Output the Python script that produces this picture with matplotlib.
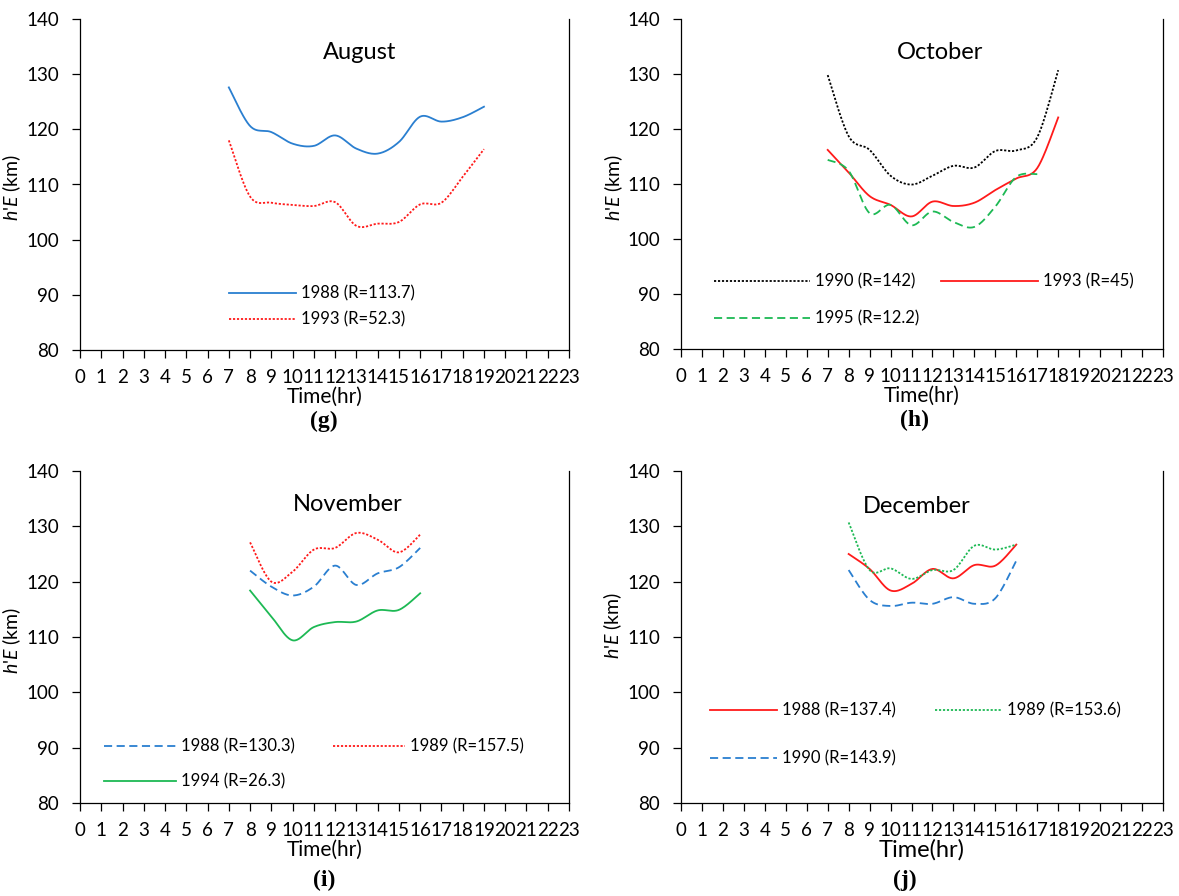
import numpy as np
import matplotlib
matplotlib.use("Agg")
import matplotlib.pyplot as plt

plt.rcParams['font.family'] = ['Lato', 'DejaVu Sans']
plt.rcParams['mathtext.fontset'] = 'custom'
plt.rcParams['mathtext.it'] = 'Lato:italic'
plt.rcParams['mathtext.rm'] = 'Lato'

# Données (h'E en km, heure locale)
hours_aug = list(range(7, 20))
aug_1988 = [127.6, 120.6, 119.5, 117.4, 117.0, 118.9, 116.5, 115.6, 117.7, 122.3, 121.4, 122.2, 124.1]
aug_1993 = [118.0, 107.8, 106.7, 106.3, 106.1, 106.8, 102.5, 102.9, 103.2, 106.4, 106.7, 111.4, 116.4]

hours_oct = list(range(7, 19))
hours_oct95 = list(range(7, 18))
oct_1990 = [129.8, 118.7, 116.2, 111.5, 109.9, 111.5, 113.3, 113.0, 116.0, 116.1, 118.5, 130.7]
oct_1993 = [116.2, 112.1, 107.8, 106.2, 104.1, 106.8, 106.0, 106.6, 108.9, 111.0, 112.9, 122.1]
oct_1995 = [114.4, 112.4, 104.7, 106.2, 102.5, 105.0, 103.1, 102.2, 105.9, 111.3, 111.8]

hours_nov = list(range(8, 17))
nov_1988 = [122.0, 119.1, 117.5, 119.1, 122.9, 119.4, 121.5, 122.6, 126.1]
nov_1989 = [127.1, 120.0, 121.8, 125.8, 126.1, 128.8, 127.6, 125.3, 128.5]
nov_1994 = [118.4, 113.7, 109.4, 111.8, 112.7, 112.8, 114.8, 114.9, 117.9]

hours_dec = list(range(8, 17))
dec_1988 = [125.0, 122.3, 118.4, 119.6, 122.3, 120.6, 123.0, 122.9, 126.7]
dec_1989 = [130.7, 122.1, 122.4, 120.5, 122.1, 122.1, 126.5, 125.8, 126.7]
dec_1990 = [122.1, 116.7, 115.6, 116.2, 116.0, 117.2, 116.0, 117.0, 123.8]

BLUE = '#2a7fd0'
RED = '#ff1a1a'
GREEN = '#1db954'
DOT = (0, (1.2, 1.0))
DASH = (0, (4.5, 2.5))


# courbe lissée façon Excel (Catmull-Rom)
def lisse(x, y, n=24):
    x = np.asarray(x, float)
    y = np.asarray(y, float)
    px = np.concatenate([[x[0]], x, [x[-1]]])
    py = np.concatenate([[y[0]], y, [y[-1]]])
    t = np.linspace(0, 1, n, endpoint=False)
    xs, ys = [], []
    for i in range(1, len(px) - 2):
        for p, out in ((px, xs), (py, ys)):
            p0, p1, p2, p3 = p[i - 1:i + 3]
            out.extend(0.5 * (2 * p1 + (-p0 + p2) * t
                              + (2 * p0 - 5 * p1 + 4 * p2 - p3) * t ** 2
                              + (-p0 + 3 * p1 - 3 * p2 + p3) * t ** 3))
    xs.append(x[-1])
    ys.append(y[-1])
    return xs, ys


def trace(ax, x, y, label, color, ls):
    xs, ys = lisse(x, y)
    return ax.plot(xs, ys, color=color, ls=ls, lw=1.3, label=label)[0]


def cadre(ax, titre, tx, ty, lettre, lx, ly, ylx, yly, xlsize=15):
    ax.set_xlim(0, 23)
    ax.set_ylim(80, 140)
    ax.set_xticks(range(24))
    ax.set_yticks(range(80, 141, 10))
    ax.tick_params(direction='out', length=6, width=0.9, labelsize=13.5, pad=9, colors='black')
    ax.tick_params(axis='x', pad=8)
    ax.spines['top'].set_visible(False)
    for s in ('left', 'bottom', 'right'):
        ax.spines[s].set_linewidth(0.9)
        ax.spines[s].set_color('black')
    ax.set_xlabel('Time(hr)', fontsize=xlsize, labelpad=0)
    ax.set_ylabel("$h$'$E$ (km)", fontsize=14)
    ax.yaxis.set_label_coords(ylx, yly)
    ax.text(tx, ty, titre, transform=ax.transAxes, ha='center', va='center', fontsize=17)
    ax.text(lx, ly, lettre, transform=ax.transAxes, ha='center', va='center',
            fontsize=17, fontweight='bold', family='Liberation Serif')


def legende(ax, lignes, x, y, **kw):
    ax.legend(handles=lignes, loc='upper left', bbox_to_anchor=(x, y), frameon=False,
              fontsize=12, handletextpad=0.3, borderpad=0, borderaxespad=0, **kw)


fig = plt.figure(figsize=(11.79, 8.96), dpi=100)
W, H = 1179, 896


def axe(x0, x1, y0, y1):
    return fig.add_axes([x0 / W, (H - y1) / H, (x1 - x0) / W, (y1 - y0) / H])


ax_g = axe(80, 569, 19, 350)
ax_h = axe(681, 1163, 19, 349)
ax_i = axe(80, 569, 471, 803)
ax_j = axe(681, 1163, 471, 803)

# (g) August
g1 = trace(ax_g, hours_aug, aug_1988, '1988 (R=113.7)', BLUE, '-')
g2 = trace(ax_g, hours_aug, aug_1993, '1993 (R=52.3)', RED, DOT)
cadre(ax_g, 'August', 0.571, 0.90, '(g)', 0.499, -0.215, -0.116, 0.49)
legende(ax_g, [g1, g2], 0.305, 0.195, handlelength=4.0, labelspacing=0.6)

# (h) October
h1 = trace(ax_h, hours_oct, oct_1990, '1990 (R=142)', 'black', DOT)
h2 = trace(ax_h, hours_oct, oct_1993, '1993 (R=45)', RED, '-')
h3 = trace(ax_h, hours_oct95, oct_1995, '1995 (R=12.2)', GREEN, DASH)
cadre(ax_h, 'October', 0.537, 0.90, '(h)', 0.485, -0.218, -0.116, 0.49)
legende(ax_h, [h1, h3, h2], 0.068, 0.228, ncol=2, handlelength=5.8,
        labelspacing=1.25, columnspacing=1.3)

# (i) November
i1 = trace(ax_i, hours_nov, nov_1988, '1988 (R=130.3)', BLUE, DASH)
i2 = trace(ax_i, hours_nov, nov_1989, '1989 (R=157.5)', RED, DOT)
i3 = trace(ax_i, hours_nov, nov_1994, '1994 (R=26.3)', GREEN, '-')
cadre(ax_i, 'November', 0.548, 0.898, '(i)', 0.50, -0.232, -0.116, 0.49)
legende(ax_i, [i1, i3, i2], 0.049, 0.195, ncol=2, handlelength=4.3,
        labelspacing=1.15, columnspacing=2.3)

# (j) December
j1 = trace(ax_j, hours_dec, dec_1988, '1988 (R=137.4)', RED, '-')
j2 = trace(ax_j, hours_dec, dec_1989, '1989 (R=153.6)', GREEN, DOT)
j3 = trace(ax_j, hours_dec, dec_1990, '1990 (R=143.9)', BLUE, DASH)
cadre(ax_j, 'December', 0.49, 0.892, '(j)', 0.465, -0.232, -0.118, 0.536, xlsize=17)
legende(ax_j, [j1, j3, j2], 0.060, 0.302, ncol=2, handlelength=4.0,
        labelspacing=1.9, columnspacing=2.4)

fig.savefig('out.png', dpi=100)
